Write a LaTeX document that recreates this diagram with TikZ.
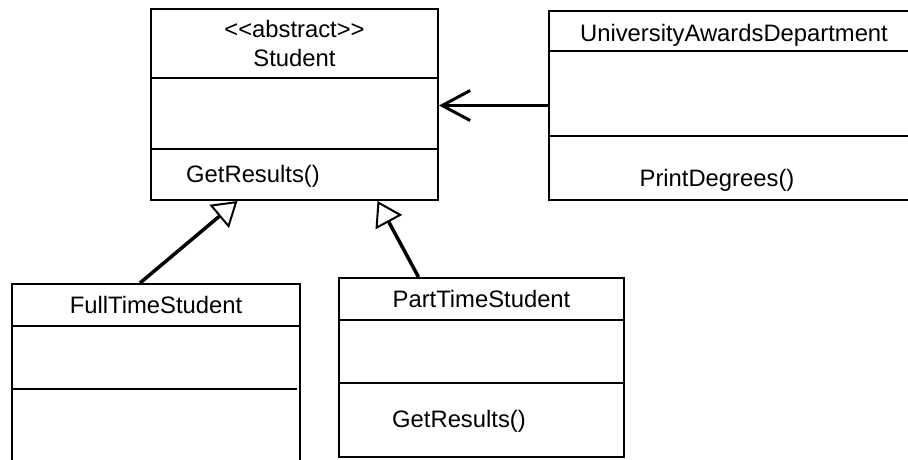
\documentclass[tikz,border=0pt]{standalone}
\usepackage{fontspec}
\setmainfont{Liberation Sans}
\usetikzlibrary{positioning, arrows.meta, calc}
\tikzset{
  classbox/.style={
    rectangle,
    draw=black,
    line width=2pt,
    inner sep=0pt
  },
  classtext/.style={
    font=\fontsize{23.8}{28}\selectfont,
    inner sep=0pt,
    anchor=base
  },
  classop/.style={
    classtext,
    anchor=base west
  },
  divider/.style={
    line width=2pt
  },
  assocarrow/.style={
    -{Straight Barb[length=28pt, width=30pt, line width=3pt]},
    line width=3.2pt
  },
  inheritarrow/.style={
    -{Triangle[open, length=24pt, width=30pt, line width=2pt]},
    line width=3.5pt
  }
}

\begin{document}
\begin{tikzpicture}[x=1pt, y=-1pt]
  \clip (0,0) rectangle (908,459);

  % class boxes
  \node[classbox, minimum width=287pt, minimum height=191pt] (student) at (294.5,104.5) {};
  \node[classbox, minimum width=370pt, minimum height=189pt] (uad) at (734,105.5) {};
  \node[classbox, minimum width=288pt, minimum height=186pt] (fts) at (156,377) {};
  \node[classbox, minimum width=285pt, minimum height=179pt] (pts) at (481.5,367.5) {};

  % compartments
  \draw[divider] ([yshift=-70pt]student.north west) -- ([yshift=-70pt]student.north east);
  \draw[divider] ([yshift=-141pt]student.north west) -- ([yshift=-141pt]student.north east);
  \draw[divider] ([yshift=-41pt]uad.north west) -- ([yshift=-41pt]uad.north east);
  \draw[divider] ([yshift=-126pt]uad.north west) -- ([yshift=-126pt]uad.north east);
  \draw[divider] ([yshift=-43pt]fts.north west) -- ([yshift=-43pt]fts.north east);
  \draw[divider] ([yshift=-106pt]fts.north west) -- ([yshift=-106pt, xshift=-4pt]fts.north east);
  \draw[divider] ([yshift=-43pt]pts.north west) -- ([yshift=-43pt]pts.north east);
  \draw[divider] ([yshift=-106pt]pts.north west) -- ([yshift=-106pt]pts.north east);

  % texts
  \node[classtext] (studentst) at ([yshift=-29pt]student.north) {<\kern0pt<abstract>\kern0pt>};
  \node[classtext] (studentname) at ([yshift=-58pt]student.north) {Student};
  \node[classop] (studentop) at ([xshift=36pt, yshift=-174pt]student.north west) {GetResults()};
  \node[classtext] (uadname) at ([yshift=-31pt]uad.north) {UniversityAwardsDepartment};
  \node[classtext] (uadop) at ([xshift=-17pt, yshift=-176pt]uad.north) {PrintDegrees()};
  \node[classtext] (ftsname) at ([yshift=-30pt]fts.north) {FullTimeStudent};
  \node[classtext] (ptsname) at ([yshift=-30pt]pts.north) {PartTimeStudent};
  \node[classop] (ptsop) at ([xshift=54pt, yshift=-150pt]pts.north west) {GetResults()};

  % relations
  \draw[assocarrow] (uad.west) -- (student.east |- uad.west);
  \draw[inheritarrow] ([xshift=-16pt]fts.north) -- ([xshift=-57pt]student.south);
  \draw[inheritarrow] ([xshift=-63pt]pts.north) -- ([xshift=83pt]student.south);
\end{tikzpicture}
\end{document}
